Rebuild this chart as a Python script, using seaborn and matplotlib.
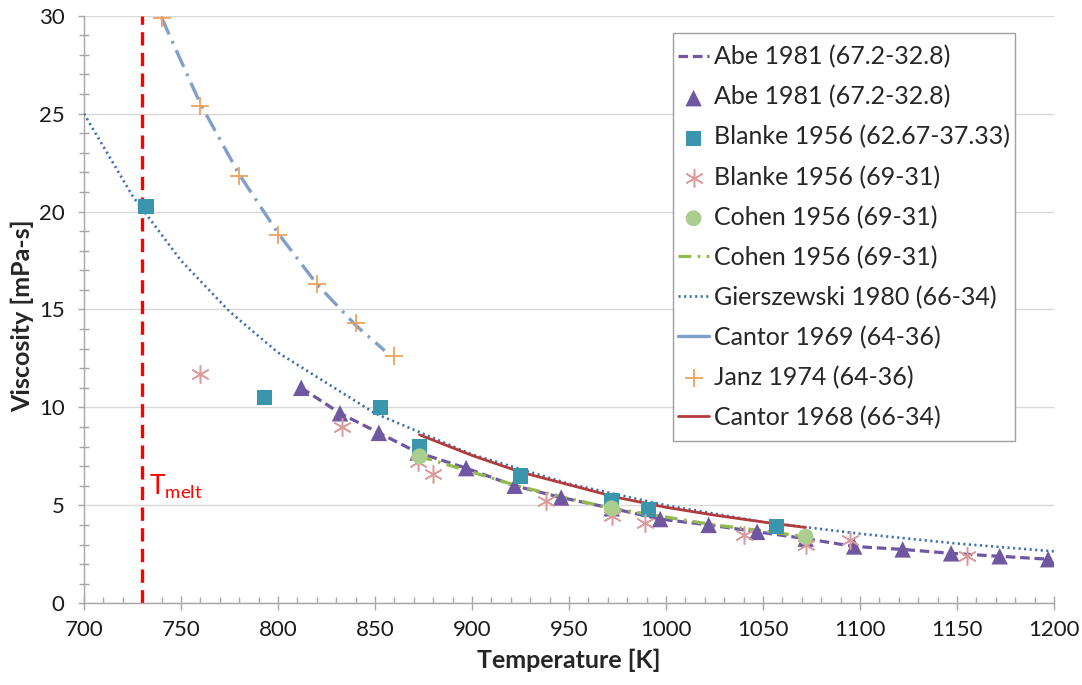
import matplotlib
matplotlib.use("Agg")
import matplotlib.pyplot as plt
import matplotlib.patches as mpatches
import seaborn as sns
import numpy as np
from matplotlib.ticker import MultipleLocator

# ---------------- data ----------------
abe_T = [812, 832, 852, 872, 897, 922, 946, 972, 997, 1022, 1047, 1072, 1097, 1122, 1147, 1172, 1197]
abe_v = [11.0, 9.7, 8.7, 7.7, 6.9, 6.0, 5.4, 4.85, 4.3, 4.0, 3.65, 3.3, 2.9, 2.75, 2.55, 2.4, 2.25]

blanke_sq_T = [732, 793, 853, 873, 925, 972, 991, 1057]
blanke_sq_v = [20.25, 10.5, 10.0, 8.0, 6.5, 5.25, 4.8, 3.9]

blanke_ast_T = [760, 833, 872, 880, 938, 972, 989, 1040, 1072, 1095, 1155]
blanke_ast_v = [11.7, 9.0, 7.2, 6.6, 5.2, 4.45, 4.1, 3.5, 3.0, 3.25, 2.4]

cohen_pt_T = [873, 972, 1072]
cohen_pt_v = [7.5, 4.85, 3.4]

cohen_line_T = [873, 900, 925, 950, 972, 1000, 1025, 1050, 1072]
cohen_line_v = [7.5, 6.7, 5.95, 5.35, 4.85, 4.4, 4.0, 3.7, 3.4]

gier_T = [700, 725, 750, 775, 800, 850, 900, 950, 1000, 1050, 1100, 1150, 1200]
gier_v = [25.0, 20.8, 17.5, 14.9, 12.8, 9.7, 7.6, 6.1, 5.0, 4.15, 3.55, 3.05, 2.65]

cantor69_T = [740, 760, 780, 800, 820, 840, 855]
cantor69_v = [29.9, 25.5, 21.9, 18.9, 16.3, 14.2, 12.9]

janz_T = [740, 760, 780, 800, 820, 840, 860]
janz_v = [29.9, 25.4, 21.8, 18.8, 16.3, 14.3, 12.6]

cantor68_T = [873, 900, 925, 950, 975, 1000, 1025, 1050, 1072]
cantor68_v = [8.6, 7.55, 6.7, 6.05, 5.4, 4.9, 4.5, 4.15, 3.87]

t_melt = 730

labels = [
    "Abe 1981 (67.2-32.8)",
    "Abe 1981 (67.2-32.8)",
    "Blanke 1956 (62.67-37.33)",
    "Blanke 1956 (69-31)",
    "Cohen 1956 (69-31)",
    "Cohen 1956 (69-31)",
    "Gierszewski 1980 (66-34)",
    "Cantor 1969 (64-36)",
    "Janz 1974 (64-36)",
    "Cantor 1968 (66-34)",
]

# ---------------- style ----------------
sns.set_style("white")
plt.rcParams["font.family"] = ["Lato", "DejaVu Sans"]
plt.rcParams["mathtext.default"] = "regular"

c_abe = "#6F57A2"
c_sq = "#3A96AD"
c_ast = "#DD9A9A"
c_cohen_pt = "#A9CE8E"
c_cohen_ln = "#94BA4C"
c_gier = "#3E6FAF"
c_c69 = "#819FCB"
c_janz = "#EDA25A"
c_c68 = "#B23B3B"

fig = plt.figure(figsize=(10.82, 6.85), dpi=100)
ax = fig.add_axes([0.0776, 0.1193, 0.8965, 0.8578])

# grid
ax.set_axisbelow(True)
ax.yaxis.grid(True, color="#D9D9D9", linewidth=1.0)
ax.xaxis.grid(False)

# T melt line
ax.axvline(t_melt, color="#FF0000", linewidth=2.4, linestyle=(0, (4, 2.2)), zorder=2)
ax.text(t_melt + 3.5, 5.55, r"T$_{melt}$", color="#FF0000", fontsize=19, zorder=6)

# series
sns.lineplot(x=abe_T, y=abe_v, ax=ax, color=c_abe, linewidth=2.3,
             linestyle=(0, (3.0, 1.5)), label=labels[0], zorder=3)
sns.scatterplot(x=abe_T, y=abe_v, ax=ax, color=c_abe, marker="^", s=140,
                edgecolor="none", label=labels[1], zorder=5)
sns.scatterplot(x=blanke_sq_T, y=blanke_sq_v, ax=ax, color=c_sq, marker="s", s=120,
                edgecolor="none", label=labels[2], zorder=5)
sns.scatterplot(x=blanke_ast_T, y=blanke_ast_v, ax=ax, color=c_ast, marker=(6, 2, 0), s=160,
                linewidth=1.1, label=labels[3], zorder=5)
sns.scatterplot(x=cohen_pt_T, y=cohen_pt_v, ax=ax, color=c_cohen_pt, marker="o", s=130,
                edgecolor="none", label=labels[4], zorder=5)
sns.lineplot(x=cohen_line_T, y=cohen_line_v, ax=ax, color=c_cohen_ln, linewidth=2.3,
             linestyle=(0, (4, 2, 0.8, 2)), label=labels[5], zorder=3)
sns.lineplot(x=gier_T, y=gier_v, ax=ax, color=c_gier, linewidth=1.9,
             linestyle=(0, (0.8, 1.3)), label=labels[6], zorder=3)
sns.lineplot(x=cantor69_T, y=cantor69_v, ax=ax, color=c_c69, linewidth=2.4,
             linestyle=(0, (5.5, 2.2, 0.8, 2.2)), label=labels[7], zorder=3)
sns.scatterplot(x=janz_T, y=janz_v, ax=ax, color=c_janz, marker="+", s=170,
                linewidth=1.3, label=labels[8], zorder=5)
sns.lineplot(x=cantor68_T, y=cantor68_v, ax=ax, color=c_c68, linewidth=2.0,
             label=labels[9], zorder=4)

# axes
ax.set_xlim(700, 1200)
ax.set_ylim(0, 30)
ax.xaxis.set_major_locator(MultipleLocator(50))
ax.xaxis.set_minor_locator(MultipleLocator(10))
ax.yaxis.set_major_locator(MultipleLocator(5))
ax.yaxis.set_minor_locator(MultipleLocator(1))

for s in ["top", "right"]:
    ax.spines[s].set_visible(False)
for s in ["left", "bottom"]:
    ax.spines[s].set_color("#A6A6A6")
    ax.spines[s].set_linewidth(1.0)

ax.tick_params(axis="x", which="major", direction="inout", length=10, width=1.0,
               color="#A6A6A6", labelsize=16, labelcolor="#1a1a1a", pad=7, bottom=True)
ax.tick_params(axis="x", which="minor", direction="in", length=4, width=1.0,
               color="#A6A6A6", bottom=True)
ax.tick_params(axis="y", which="major", direction="out", length=4, width=1.0,
               color="#A6A6A6", labelsize=16, labelcolor="#1a1a1a", pad=10, left=True)
ax.tick_params(axis="y", which="minor", direction="inout", length=7, width=1.0,
               color="#A6A6A6", left=True)

ax.set_xlabel("Temperature [K]", fontsize=18, fontweight="bold", labelpad=6)
ax.set_ylabel("Viscosity [mPa-s]", fontsize=18, fontweight="bold")
ax.yaxis.set_label_coords(-0.051, 0.49)

# legend (frame drawn separately to get extra vertical padding)
handles, lbls = ax.get_legend_handles_labels()
leg = ax.legend(handles, lbls, loc="upper left", bbox_to_anchor=(0.6072, 0.958),
                fontsize=18, frameon=False, borderpad=0.2, labelspacing=0.67,
                handlelength=1.25, handletextpad=0.2, borderaxespad=0)
leg.set_zorder(10)
for ln in leg.get_lines():
    if ln.get_color() == c_c69:
        ln.set_linestyle("-")

fig.canvas.draw()
bb = leg.get_window_extent().transformed(fig.transFigure.inverted())
pad_y = 7 / fig.bbox.height
frame = mpatches.Rectangle((bb.x0, bb.y0 - pad_y), bb.width, bb.height + 2 * pad_y,
                           transform=fig.transFigure, facecolor="white",
                           edgecolor="#A0A0A0", linewidth=1.0, zorder=9)
fig.add_artist(frame)
fig.add_artist(leg)

fig.savefig("out.png", dpi=100)
